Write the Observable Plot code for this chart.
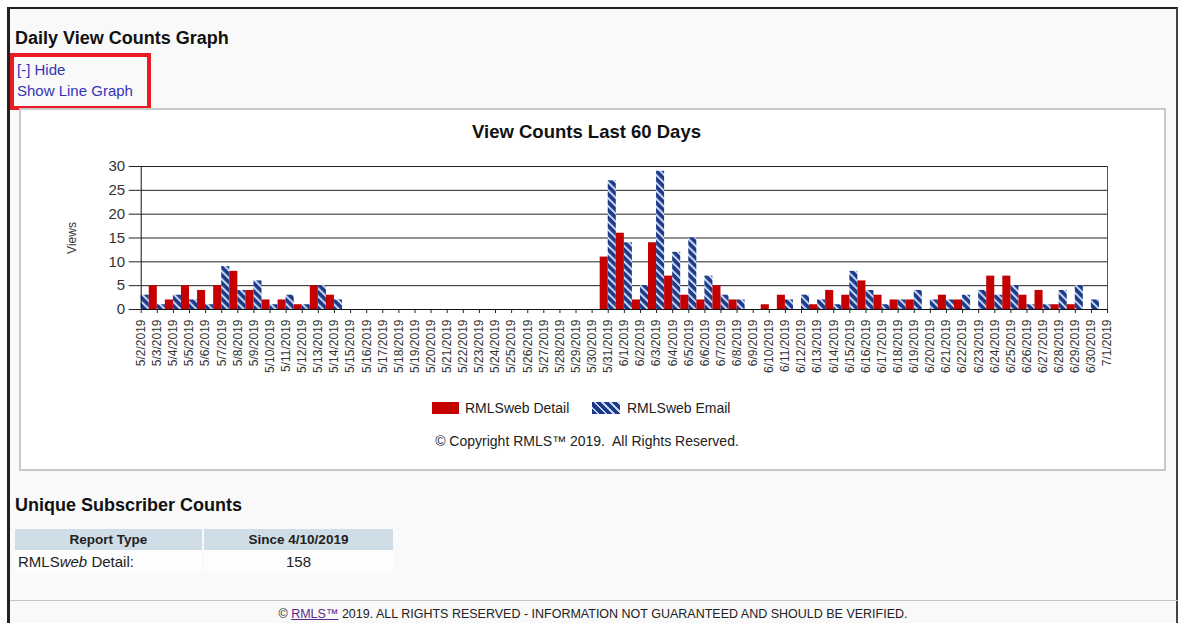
<!DOCTYPE html>
<html>
<head>
<meta charset="utf-8">
<script src="https://cdn.jsdelivr.net/npm/d3@7"></script>
<script src="https://cdn.jsdelivr.net/npm/@observablehq/plot@0.6"></script>
<style>
  html, body { margin: 0; padding: 0; background: #fff; }
  body { font-family: Arial, "Liberation Sans", sans-serif; color: #222; }
  #page { position: relative; width: 1178px; height: 623px; overflow: hidden; background: #fff; }
  #frame { position: absolute; left: 7px; top: 7px; width: 1166px; height: 620px;
           border-left: 3px solid #222; border-top: 2px solid #222; border-right: 2px solid #444;
           background: #f9f9f9; }
  .abs { position: absolute; white-space: pre; }
  .h2 { font-weight: bold; font-size: 18px; line-height: 20px; color: #111; }
  #redbox { position: absolute; left: 10px; top: 53px; width: 141px; height: 57px; box-sizing: border-box;
            border: 4px solid #e81c24; }
  .link { font-size: 15px; line-height: 18px; color: #3434b8; }
  #chartbox { position: absolute; left: 19px; top: 108px; width: 1147px; height: 363px; box-sizing: border-box;
              border: 2px solid #c8c8c8; background: #fff; }
  #plot { position: absolute; left: 20px; top: 150px; }
  .title { font-weight: bold; font-size: 18.5px; line-height: 20px; color: #111; text-align: center; }
  .legtext { font-size: 14px; line-height: 16px; color: #222; }
  .swatch { position: absolute; height: 12px; }
  #tbl { position: absolute; left: 15px; top: 529px; border-collapse: separate; border-spacing: 2px 0; margin-left: -2px; }
  #tbl th { background: #cfdde6; font-weight: bold; font-size: 13.5px; height: 21px; padding: 0; text-align: center; color: #222; }
  #tbl td { background: #fdfdfd; font-size: 15px; height: 23px; padding: 0; color: #222; }
  #footline { position: absolute; left: 10px; top: 600px; width: 1168px; height: 0; border-top: 1px solid #c4c4c4; }
  .foot { font-size: 12.5px; line-height: 14px; color: #222; text-align: center; }
  .foot a { color: #5a2a8a; text-decoration: underline; }
</style>
</head>
<body>
<div id="page">
  <div id="frame"></div>
  <div class="abs h2" style="left:15px; top:28px;">Daily View Counts Graph</div>
  <div id="redbox"></div>
  <div class="abs link" style="left:17px; top:61px;">[-] Hide</div>
  <div class="abs link" style="left:17px; top:82px;">Show Line Graph</div>
  <div id="chartbox"></div>
  <div class="abs title" style="left:0px; width:1173px; top:122px;">View Counts Last 60 Days</div>
  <div id="plot"></div>
  <div class="swatch" style="left:432px; top:402px; width:27px; background:#c40000;"></div>
  <div class="abs legtext" style="left:465px; top:400px;">RMLSweb Detail</div>
  <div class="swatch" style="left:592px; top:402px; width:28px; background: repeating-linear-gradient(45deg, #1b3a8c 0px, #1b3a8c 3.6px, #c9d5ee 3.6px, #c9d5ee 5.6px);"></div>
  <div class="abs legtext" style="left:627px; top:400px;">RMLSweb Email</div>
  <div class="abs legtext" style="left:0px; width:1174px; text-align:center; top:433px;">© Copyright RMLS™ 2019.  All Rights Reserved.</div>
  <div class="abs h2" style="left:15px; top:495px;">Unique Subscriber Counts</div>
  <table id="tbl">
    <tr><th style="width:187px;">Report Type</th><th style="width:189px;">Since 4/10/2019</th></tr>
    <tr><td style="padding-left:3px;">RMLS<i>web</i> Detail:</td><td style="text-align:center;">158</td></tr>
  </table>
  <div id="footline"></div>
  <div class="abs foot" style="left:0px; width:1186px; top:607px;">© <a>RMLS™</a> 2019. ALL RIGHTS RESERVED - INFORMATION NOT GUARANTEED AND SHOULD BE VERIFIED.</div>
</div>
<script>
// ---- data ----
const dayLabels = [
  "5/2/2019","5/3/2019","5/4/2019","5/5/2019","5/6/2019","5/7/2019","5/8/2019","5/9/2019","5/10/2019",
  "5/11/2019","5/12/2019","5/13/2019","5/14/2019","5/15/2019","5/16/2019","5/17/2019","5/18/2019",
  "5/19/2019","5/20/2019","5/21/2019","5/22/2019","5/23/2019","5/24/2019","5/25/2019","5/26/2019",
  "5/27/2019","5/28/2019","5/29/2019","5/30/2019","5/31/2019",
  "6/1/2019","6/2/2019","6/3/2019","6/4/2019","6/5/2019","6/6/2019","6/7/2019","6/8/2019","6/9/2019",
  "6/10/2019","6/11/2019","6/12/2019","6/13/2019","6/14/2019","6/15/2019","6/16/2019","6/17/2019",
  "6/18/2019","6/19/2019","6/20/2019","6/21/2019","6/22/2019","6/23/2019","6/24/2019","6/25/2019",
  "6/26/2019","6/27/2019","6/28/2019","6/29/2019","6/30/2019","7/1/2019"
];
// one value per day, 5/2 .. 6/30
const emailViews = [
  3,1,3,2,1,9,4,6,1,3,1,5,2,
  0,0,0,0,0,0,0,0,0,0,0,0,0,0,0,0,
  27,
  14,5,29,12,15,7,3,2,0,0,2,3,2,1,8,4,1,2,4,2,2,3,4,3,5,1,1,4,5,2
];
const detailViews = [
  5,2,5,4,5,8,4,2,2,1,5,3,0,
  0,0,0,0,0,0,0,0,0,0,0,0,0,0,0,11,
  16,
  2,14,7,3,2,5,2,0,1,3,0,1,4,3,6,3,2,2,0,3,2,0,7,7,3,4,1,1,0,0
];
const yTicks = [0, 5, 10, 15, 20, 25, 30];
const seriesNames = ["RMLSweb Detail", "RMLSweb Email"];

// ---- build ----
const parseDay = s => { const [m, d, y] = s.split("/").map(Number); return new Date(Date.UTC(y, m - 1, d)); };
const tickDates = dayLabels.map(parseDay);
const labelByTime = new Map(tickDates.map((d, i) => [+d, dayLabels[i]]));
const HALF = 12 * 3600 * 1000;

const rows = [];
emailViews.forEach((v, i) => rows.push({date: tickDates[i], series: seriesNames[1], value: v}));
detailViews.forEach((v, i) => rows.push({date: tickDates[i], series: seriesNames[0], value: v}));
const emailRows = rows.filter(r => r.series === seriesNames[1] && r.value > 0);
const detailRows = rows.filter(r => r.series === seriesNames[0] && r.value > 0);

const chart = Plot.plot({
  width: 1146,
  height: 229,
  marginLeft: 120.7,
  marginRight: 59,
  marginTop: 16,
  marginBottom: 70,
  style: {background: "transparent", fontFamily: "Arial, 'Liberation Sans', sans-serif", color: "#333", overflow: "visible"},
  x: {type: "utc", domain: [tickDates[0], tickDates[tickDates.length - 1]]},
  y: {domain: [0, 30]},
  marks: [
    Plot.gridY(yTicks, {stroke: "#222", strokeOpacity: 1, strokeWidth: 1}),
    Plot.rect(emailRows, {
      x1: d => d.date, x2: d => new Date(+d.date + HALF),
      y1: 0, y2: "value", fill: "url(#hatch)"
    }),
    Plot.rect(detailRows, {
      x1: d => new Date(+d.date + HALF), x2: d => new Date(+d.date + 2 * HALF),
      y1: 0, y2: "value", fill: "#c40000"
    }),
    Plot.ruleX([tickDates[tickDates.length - 1]], {stroke: "#555"}),
    Plot.ruleX([tickDates[0]], {stroke: "#111"}),
    Plot.ruleY([0], {stroke: "#111"}),
    Plot.axisY({ticks: yTicks, tickSize: 12, tickPadding: 4, fontSize: 15, stroke: "#222", label: null}),
    Plot.axisX({ticks: tickDates, tickFormat: d => labelByTime.get(+d), tickRotate: -90,
                tickSize: 4, tickPadding: 6, fontSize: 12, stroke: "#222", label: null}),
    Plot.text(["Views"], {frameAnchor: "left", dx: -69, rotate: -90, text: d => d,
                          textAnchor: "middle", fontSize: 12, fill: "#333"})
  ]
});

const ns = "http://www.w3.org/2000/svg";
const defs = document.createElementNS(ns, "defs");
defs.innerHTML = '<pattern id="hatch" patternUnits="userSpaceOnUse" width="5.6" height="5.6" patternTransform="rotate(-45)">' +
  '<rect width="5.6" height="5.6" fill="#1b3a8c"/><rect x="0" y="0" width="2" height="5.6" fill="#c9d5ee"/></pattern>';
chart.insertBefore(defs, chart.firstChild);
document.getElementById("plot").appendChild(chart);
</script>
</body>
</html>
